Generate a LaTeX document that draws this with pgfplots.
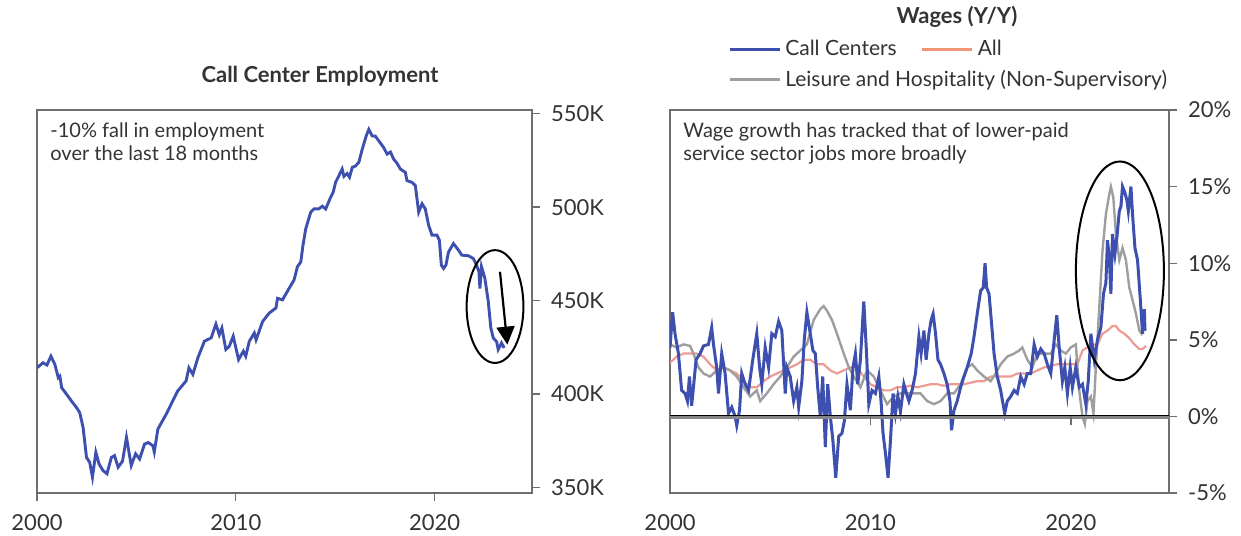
\documentclass[border=0pt]{standalone}
\usepackage{fontspec}
\setmainfont{Lato}
\usepackage{pgfplots}
\pgfplotsset{compat=1.18}
\usetikzlibrary{arrows.meta}

\definecolor{ccblue}{HTML}{3D4FAF}
\definecolor{allpink}{HTML}{EC9C92}
\definecolor{leisgray}{HTML}{9E9E9E}
\definecolor{txt}{HTML}{333333}
\definecolor{frame}{HTML}{6E6E6E}

\pgfplotsset{
  panel/.style={
    scale only axis,
    height=191.5pt,
    xmin=2000, xmax=2024.9,
    xtick={2000,2010,2020},
    axis line style={frame, line width=0.7pt},
    tick style={frame, line width=0.7pt},
    major tick length=4pt,
    tick align=outside,
    ytick pos=right,
    xtick pos=bottom,
    yticklabel pos=right,
    ticklabel style={font=\fontsize{11}{13}\selectfont, text=txt},
    /pgf/number format/assume math mode=true,
    /pgf/number format/1000 sep={},
    xticklabel style={yshift=-3pt},
    yticklabel style={xshift=2pt},
  },
}

\begin{document}
\begin{tikzpicture}
\path[use as bounding box] (-18.5pt,-21pt) rectangle (602pt,246.5pt);

% ---- left: call center employment
\begin{axis}[panel,
  at={(0pt,0pt)},
  width=247.5pt,
  ymin=347, ymax=552,
  ytick={350,400,450,500,550},
  yticklabel={\pgfmathprintnumber{\tick}K},
]
\addplot[ccblue, line width=1.45pt] coordinates {
(2000.0,414) (2000.3,416.7) (2000.5,415.5) (2000.7,420.2) (2000.9,415.8) (2001.07,408.7) (2001.15,409.5)
(2001.24,403.4) (2001.49,399.8) (2001.75,396) (2001.99,392.7) (2002.15,390) (2002.32,382) (2002.49,366) (2002.65,363.5)
(2002.79,355.5) (2002.96,368.8) (2003.12,362.6) (2003.32,359) (2003.52,357.3) (2003.74,366)
(2003.9,367) (2004.08,360.8) (2004.3,364) (2004.5,376.8) (2004.74,361.7) (2004.96,368) (2005.16,365.2) (2005.41,373.2)
(2005.6,374) (2005.83,372.3) (2005.9,369) (2006.08,381.2) (2006.5,389.2) (2006.83,396.3) (2007.08,401.6) (2007.5,407)
(2007.64,414) (2007.84,410.5) (2008.09,419.3) (2008.42,428.2) (2008.76,430) (2009.0,437.4)
(2009.17,431.7) (2009.3,435.3) (2009.5,423.8) (2009.67,425.5) (2009.87,430.9) (2010.14,418.4)
(2010.38,422.9) (2010.5,420.2) (2010.68,428.2) (2010.93,432.6) (2011.02,429) (2011.35,438.8)
(2011.68,443.3) (2012.02,446) (2012.1,451.2) (2012.35,450.4) (2012.68,456.5) (2012.93,461)
(2013.1,468.1) (2013.27,470.7) (2013.38,479.6) (2013.52,488.5) (2013.77,497.3) (2013.94,499.1)
(2014.18,499.1) (2014.35,500.5) (2014.52,499) (2014.77,505.3) (2014.9,508) (2015.02,513.3)
(2015.19,516.9) (2015.35,520.4) (2015.44,516.5) (2015.6,518) (2015.72,516) (2015.86,521.3)
(2016.02,522) (2016.19,524) (2016.36,531) (2016.56,538.1) (2016.69,541.6) (2016.86,538.1)
(2017.02,538) (2017.19,535.5) (2017.44,531.9) (2017.61,528.4) (2017.78,529.5) (2017.94,525.7)
(2018.11,523.5) (2018.28,520.4) (2018.53,518.6) (2018.61,514.2) (2018.86,513.3) (2019.03,511.6)
(2019.2,497.3) (2019.37,501.8) (2019.53,499.1) (2019.7,490.3) (2019.87,485) (2020.12,485)
(2020.24,482.3) (2020.34,469) (2020.45,467.2) (2020.57,469) (2020.7,476) (2020.95,480.5)
(2021.2,477) (2021.37,474.3) (2021.7,474) (2021.95,472.5) (2022.11,469) (2022.23,465.4)
(2022.28,456.5) (2022.36,468.1) (2022.53,461.9) (2022.7,449.5) (2022.83,435.3) (2022.95,430)
(2023.12,428) (2023.2,423.8) (2023.37,427.3) (2023.5,424.6)
};
\draw[line width=1pt] (axis cs:2023.04,446.8) ellipse [x radius=14.2pt, y radius=28.2pt];
\draw[line width=1.1pt, -{Triangle[length=9pt,width=9pt]}] (axis cs:2023.29,465.4) -- (axis cs:2023.66,426.4);
\node[anchor=north west, align=left, inner sep=0pt, text=txt,
  font=\fontsize{10}{11.8}\selectfont] at ([xshift=6.5pt,yshift=-6pt]rel axis cs:0,1)
  {-10\% fall in employment\\over the last 18 months};
\end{axis}
\node[text=txt, font=\bfseries\fontsize{11}{13}\selectfont] at (141.5pt,208.5pt) {Call Center Employment};

% ---- right: wages
\begin{axis}[panel,
  at={(316.5pt,0pt)},
  width=249.5pt,
  ymin=-5, ymax=20,
  ytick={-5,0,5,10,15,20},
  yticklabel={\pgfmathprintnumber{\tick}\%},
  xtick style={draw=none},
  legend columns=2,
  legend cell align=left,
  legend style={draw=none, fill=none, at={(0.104,1.205)}, anchor=north west,
    font=\fontsize{10.5}{12}\selectfont, text=txt,
    /tikz/every even column/.append style={column sep=10pt},
    row sep=2pt},
  legend image code/.code={\draw[#1] (0pt,0pt) -- (25pt,0pt);},
]
\addplot[allpink, line width=1.1pt, forget plot] coordinates {
(2000.0,3.5) (2000.33,3.9) (2000.67,4.1) (2001.0,4.1) (2001.33,4.1) (2001.67,3.9) (2002.0,3.4)
(2002.33,3.0) (2002.67,3.2) (2003.0,3.0) (2003.33,2.8) (2003.67,2.3) (2004.0,1.9) (2004.33,1.9)
(2004.67,2.3) (2005.0,2.6) (2005.33,2.8) (2005.67,3.0) (2006.0,3.2) (2006.33,3.4) (2006.67,3.7)
(2007.0,3.7) (2007.33,3.4) (2007.67,3.4) (2008.0,3.0) (2008.33,2.8) (2008.67,3.0) (2009.0,3.2)
(2009.33,3.2) (2009.67,2.6) (2010.0,2.1) (2010.33,1.9) (2010.67,1.7) (2011.0,1.7) (2011.33,1.9)
(2011.67,1.9) (2012.0,2.0) (2012.33,1.9) (2012.67,2.0) (2013.0,2.1) (2013.33,2.1) (2013.67,2.0)
(2014.0,2.1) (2014.33,2.1) (2014.67,2.1) (2015.0,2.2) (2015.33,2.3) (2015.67,2.3) (2016.0,2.6)
(2016.33,2.6) (2016.67,2.6) (2017.0,2.6) (2017.33,2.8) (2017.67,2.8) (2018.0,2.8) (2018.33,3.0)
(2018.67,3.2) (2019.0,3.3) (2019.33,3.4) (2019.67,3.4) (2020.0,3.4) (2020.33,3.4) (2020.58,4.3)
(2020.83,4.5) (2021.08,4.7) (2021.33,4.7) (2021.58,5.4) (2021.83,5.6) (2022.08,5.9) (2022.25,5.9)
(2022.42,5.6) (2022.67,5.4) (2022.92,5.1) (2023.17,4.7) (2023.42,4.4) (2023.58,4.4) (2023.75,4.6)
};
\addplot[leisgray, line width=1.2pt, forget plot] coordinates {
(2000.0,4.7) (2000.33,4.5) (2000.67,4.7) (2001.0,4.6) (2001.17,4.1) (2001.42,3.2) (2001.67,2.8)
(2002.0,2.6) (2002.33,3.0) (2002.67,3.2) (2003.0,3.0) (2003.33,2.6) (2003.67,1.9) (2004.0,1.3)
(2004.33,1.7) (2004.5,1.0) (2004.83,1.5) (2005.17,2.1) (2005.5,2.6) (2005.83,3.2) (2006.17,3.9)
(2006.5,4.3) (2006.83,4.7) (2007.17,6.3) (2007.5,7.0) (2007.67,7.2) (2007.83,6.9) (2008.08,6.3)
(2008.33,5.4) (2008.67,4.1) (2008.92,3.2) (2009.17,2.6) (2009.5,1.9) (2009.83,3.0) (2010.17,2.6)
(2010.5,1.7) (2010.83,0.8) (2011.17,1.3) (2011.5,1.5) (2011.83,1.5) (2012.17,1.5) (2012.5,1.5)
(2012.83,1.0) (2013.17,0.8) (2013.5,1.0) (2013.83,1.5) (2014.17,1.5) (2014.5,2.1) (2014.83,3.2)
(2015.08,3.4) (2015.33,3.0) (2015.67,2.6) (2016.0,2.3) (2016.25,2.8) (2016.5,3.4) (2016.83,3.9)
(2017.17,4.1) (2017.42,4.3) (2017.58,4.5) (2017.83,3.7) (2018.08,3.2) (2018.33,4.1) (2018.67,4.1)
(2019.0,4.1) (2019.25,4.7) (2019.5,4.3) (2019.75,4.1) (2020.0,4.5) (2020.25,4.7) (2020.42,1.7)
(2020.58,0) (2020.7,-0.5) (2020.83,1.0) (2021.0,1.3) (2021.13,0.2) (2021.25,3.2) (2021.42,7.1)
(2021.58,10.8) (2021.75,13.2) (2021.92,14.5) (2022.0,15.0) (2022.12,14.3) (2022.25,11.9)
(2022.42,10.2) (2022.58,11.0) (2022.75,10.2) (2022.92,8.4) (2023.08,7.6) (2023.25,6.7)
(2023.42,5.6) (2023.53,5.4) (2023.63,5.8) (2023.75,5.6)
};
\addplot[ccblue, line width=1.5pt, forget plot] coordinates {
(2000.0,4.5) (2000.13,6.8) (2000.25,5.4) (2000.42,4.1) (2000.58,1.7) (2000.75,1.5) (2000.87,1.0)
(2000.97,2.6) (2001.08,0.7) (2001.17,1.9) (2001.3,3.7) (2001.5,4.1) (2001.67,4.6) (2001.92,4.7)
(2002.08,5.8) (2002.17,4.7) (2002.33,3.2) (2002.42,1.5) (2002.58,4.1) (2002.75,2.8) (2002.92,0.2)
(2003.08,0.6) (2003.25,0) (2003.33,-0.6) (2003.47,0.4) (2003.58,2.8) (2003.75,2.1) (2003.92,1.7)
(2004.13,3.7) (2004.33,5.4) (2004.47,3.2) (2004.58,2.1) (2004.75,4.5) (2004.92,3.2) (2005.08,5.4)
(2005.25,5.2) (2005.42,6.2) (2005.58,5.6) (2005.75,1.5) (2005.83,3.2) (2006.0,2.6) (2006.17,1.0)
(2006.33,1.9) (2006.42,0.6) (2006.58,2.3) (2006.7,5.0) (2006.83,6.8) (2007.0,5.4) (2007.13,4.3)
(2007.25,4.1) (2007.37,1.9) (2007.5,0) (2007.62,2.6) (2007.75,-2.0) (2007.87,2.1) (2008.0,0)
(2008.13,-1.6) (2008.27,-4.0) (2008.42,-1.3) (2008.58,-1.1) (2008.7,-0.3) (2008.83,2.1) (2009.0,0.4)
(2009.13,3.2) (2009.25,4.1) (2009.37,2.1) (2009.5,3.7) (2009.67,7.5) (2009.8,4.3) (2009.92,0.8)
(2010.08,1.7) (2010.25,1.5) (2010.42,2.6) (2010.53,1.0) (2010.63,-1.1) (2010.75,-2.4) (2010.88,-4.0)
(2011.0,-1.6) (2011.13,1.5) (2011.25,0.2) (2011.37,1.3) (2011.5,0.3) (2011.67,2.1) (2011.8,1.5)
(2011.92,1.0) (2012.08,1.7) (2012.25,2.8) (2012.42,5.2) (2012.53,4.1) (2012.67,5.6) (2012.78,3.7)
(2012.92,5.4) (2013.03,6.3) (2013.13,6.7) (2013.25,5.4) (2013.37,3.7) (2013.5,3.4) (2013.67,2.8)
(2013.83,2.1) (2013.97,1.0) (2014.05,-0.9) (2014.17,0.4) (2014.33,1.0) (2014.5,1.9) (2014.67,2.6)
(2014.83,3.2) (2015.03,4.1) (2015.17,5.2) (2015.33,6.7) (2015.5,8.2) (2015.63,8.4) (2015.72,10.0)
(2015.8,8.4) (2015.92,8.0) (2016.03,6.3) (2016.17,4.1) (2016.33,2.6) (2016.5,1.7) (2016.7,0.2)
(2016.83,1.0) (2017.0,1.3) (2017.17,1.7) (2017.33,1.5) (2017.5,2.6) (2017.67,2.1) (2017.83,2.8)
(2018.0,2.8) (2018.17,4.7) (2018.33,3.9) (2018.5,4.4) (2018.67,4.1) (2018.83,3.4) (2019.0,2.8)
(2019.17,5.0) (2019.3,6.6) (2019.42,4.5) (2019.58,2.3) (2019.7,3.2) (2019.83,1.5) (2019.97,3.2)
(2020.08,1.9) (2020.25,3.2) (2020.42,1.9) (2020.58,2.1) (2020.75,0.8) (2020.87,2.3) (2021.0,5.4)
(2021.17,3.7) (2021.33,5.0) (2021.5,5.8) (2021.63,8.0) (2021.75,8.7) (2021.83,11.5) (2021.92,10.4)
(2022.0,8.0) (2022.08,11.9) (2022.2,10.6) (2022.3,11.7) (2022.42,13.4) (2022.5,13.7) (2022.58,15.0)
(2022.7,14.6) (2022.8,14.1) (2022.87,13.4) (2023.0,15.0) (2023.08,13.2) (2023.2,11.0) (2023.33,10.2)
(2023.47,7.6) (2023.58,5.4) (2023.67,7.0) (2023.7,5.6)
};
% zero line and ticks hanging from it
\draw[leisgray!85!black, line width=1.8pt] ([yshift=-0.4pt]axis cs:2000,0) -- ([yshift=-0.4pt]axis cs:2024.9,0);
\draw[black, line width=0.5pt] ([yshift=0.6pt]axis cs:2000,0) -- ([yshift=0.6pt]axis cs:2024.9,0);
\draw[frame, line width=0.7pt] (axis cs:2010,0) -- ([yshift=-4.5pt]axis cs:2010,0);
\draw[frame, line width=0.7pt] (axis cs:2020,0) -- ([yshift=-4.5pt]axis cs:2020,0);
\draw[line width=1pt] (axis cs:2022.45,9.5) ellipse [x radius=22pt, y radius=54.7pt];
\node[anchor=north west, align=left, inner sep=0pt, text=txt,
  font=\fontsize{10}{11.8}\selectfont] at ([xshift=6.5pt,yshift=-6pt]rel axis cs:0,1)
  {Wage growth has tracked that of lower-paid\\service sector jobs more broadly};
\addlegendimage{ccblue, line width=1.5pt}
\addlegendentry{Call Centers}
\addlegendimage{allpink!80!orange, line width=1.5pt}
\addlegendentry{All}
\addlegendimage{leisgray, line width=1.5pt}
\addlegendentry{\makebox[0pt][l]{Leisure and Hospitality (Non-Supervisory)}}
\end{axis}
\node[text=txt, font=\bfseries\fontsize{11}{13}\selectfont] at (460pt,238pt) {Wages (Y/Y)};
\end{tikzpicture}
\end{document}
